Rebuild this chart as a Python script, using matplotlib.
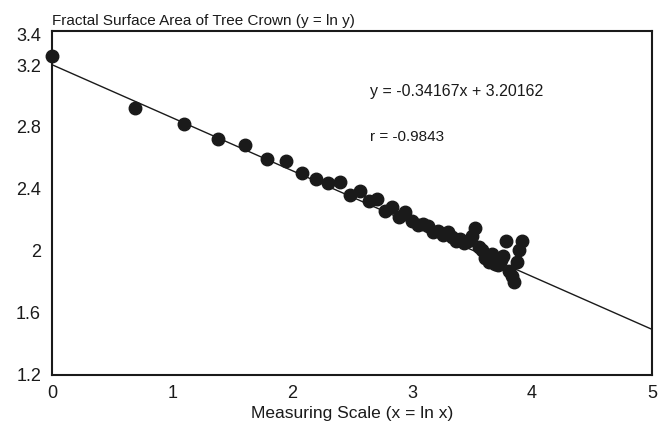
import matplotlib
matplotlib.use("Agg")
import matplotlib.pyplot as plt
import numpy as np

plt.rcParams['font.family'] = ['Liberation Sans', 'DejaVu Sans']

# measuring scale (x = ln x)
x_vals = [0.000, 0.693, 1.099, 1.386, 1.609, 1.792, 1.946, 2.079, 2.197, 2.303,
          2.398, 2.485, 2.565, 2.639, 2.708, 2.773, 2.833, 2.890, 2.944, 2.996,
          3.045, 3.091, 3.135, 3.178, 3.219, 3.258, 3.296, 3.332, 3.367, 3.401,
          3.434, 3.466, 3.497, 3.526, 3.555, 3.584, 3.611, 3.638, 3.664, 3.689,
          3.714, 3.738, 3.761, 3.784, 3.807, 3.829, 3.850, 3.871, 3.892, 3.912]
# fractal surface area (y = ln y)
y_vals = [3.260, 2.922, 2.816, 2.721, 2.682, 2.596, 2.581, 2.501, 2.467, 2.436,
          2.445, 2.361, 2.386, 2.322, 2.333, 2.257, 2.281, 2.216, 2.249, 2.190,
          2.164, 2.171, 2.158, 2.119, 2.126, 2.100, 2.119, 2.087, 2.061, 2.074,
          2.048, 2.061, 2.093, 2.145, 2.028, 2.009, 1.957, 1.931, 1.977, 1.918,
          1.906, 1.944, 1.970, 2.061, 1.867, 1.841, 1.802, 1.931, 2.009, 2.061]

slope = -0.34167
intercept = 3.20162
fit_x = [0, 5]

y_ticks = [1.2, 1.6, 2.0, 2.4, 2.8, 3.2, 3.4]
y_tick_labels = ["1.2", "1.6", "2", "2.4", "2.8", "3.2", "3.4"]
x_ticks = [0, 1, 2, 3, 4, 5]

fig = plt.figure(figsize=(6.6, 4.42), dpi=100)
ax = fig.add_axes([0.079, 0.152, 0.909, 0.778])

ax.plot(fit_x, [slope * v + intercept for v in fit_x], color="#1a1a1a", lw=1.0, zorder=2)
ax.plot(x_vals, y_vals, "o", color="#1a1a1a", markersize=9, zorder=3, clip_on=False)

ax.set_xlim(0, 5)
ax.set_ylim(1.2, 3.42)
ax.set_xticks(x_ticks)
ax.set_xticklabels([str(t) for t in x_ticks])
ax.set_yticks(y_ticks)
ax.set_yticklabels(y_tick_labels)
ax.tick_params(length=0, labelsize=13, colors="#1a1a1a")
ax.tick_params(axis="y", pad=8)
ax.tick_params(axis="x", pad=7)
for s in ax.spines.values():
    s.set_linewidth(1.5)
    s.set_color("#1a1a1a")

ax.text(2.65, 3.03, "y = -0.34167x + 3.20162", fontsize=11.5, color="#1a1a1a", va="center")
ax.text(2.65, 2.734, "r = -0.9843", fontsize=11, color="#1a1a1a", va="center")

ax.set_title("Fractal Surface Area of Tree Crown (y = ln y)", loc="left", fontsize=11,
             pad=4, color="#1a1a1a")
ax.set_xlabel("Measuring Scale (x = ln x)", fontsize=12.5, labelpad=3, color="#1a1a1a")

fig.savefig("out.png", dpi=100)
